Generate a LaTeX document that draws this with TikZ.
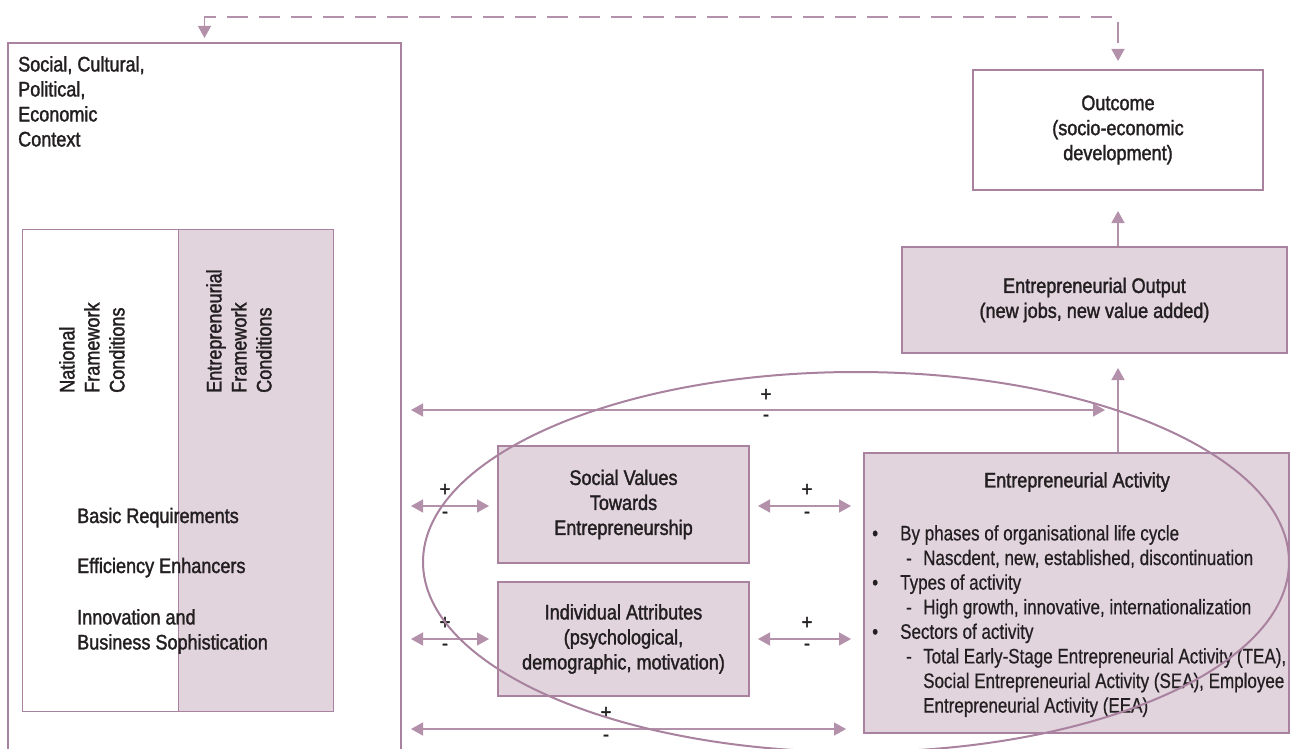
\documentclass[tikz,border=0pt]{standalone}
\usepackage{fontspec}
\setmainfont{Liberation Sans}[FakeStretch=0.86,FakeBold=1.6]
\newfontfamily\actfont{Liberation Sans}[FakeStretch=0.81,FakeBold=0.6]
\usetikzlibrary{arrows.meta}
\definecolor{bord}{RGB}{168,130,158}
\definecolor{arrc}{RGB}{180,145,170}
\definecolor{boxfill}{RGB}{225,212,221}
\definecolor{txt}{RGB}{35,31,32}
\newcommand\mainsz{\fontsize{21}{25}\selectfont}
\newcommand\actsz{\actfont\fontsize{21}{24.6}\selectfont}
\begin{document}
\begin{tikzpicture}[x=1pt,y=-1pt,
  every node/.style={text=txt, font=\mainsz},
  box/.style={draw=bord, line width=2pt, inner sep=0pt, align=center},
  shaded/.style={box, fill=boxfill},
  thinbox/.style={draw=bord, line width=1pt, inner sep=0pt},
  arr/.style={draw=arrc, line width=1.5pt, -{Triangle[width=13pt,length=12pt]}},
  darr/.style={draw=arrc, line width=1.5pt, {Triangle[width=13pt,length=12pt]}-{Triangle[width=13pt,length=12pt]}},
  pm/.style={inner sep=0pt},
  txtnode/.style={inner sep=0pt, align=left}]
\useasboundingbox (0,0) rectangle (1290,749);
\fill[white] (0,0) rectangle (1290,749);

% outer context box
\node[box, minimum width=393pt, minimum height=727pt] (outer) at (204.5,406.5) {};
\node[txtnode, anchor=north west] (ctx) at (18,56) {Social, Cultural,\\Political,\\Economic\\Context};

% framework conditions
\node[thinbox, minimum width=156pt, minimum height=482pt] (nfc) at (100,470) {};
\node[thinbox, fill=boxfill, minimum width=155pt, minimum height=482pt] (efc) at (255.5,470) {};
\node[txtnode, rotate=90, anchor=north west] (nfct) at (59,393) {National\\Framework\\Conditions};
\node[txtnode, rotate=90, anchor=north west] (efct) at (206,393) {Entrepreneurial\\Framework\\Conditions};
\node[txtnode, anchor=base west] (basic) at (77,523) {Basic Requirements};
\node[txtnode, anchor=base west] (eff) at (77,573) {Efficiency Enhancers};
\node[txtnode, anchor=north west] (inno) at (77,609) {Innovation and\\Business Sophistication};

% middle boxes
\node[shaded, minimum width=251pt, minimum height=117pt] (social) at (623.5,504.5) {Social Values\\Towards\\Entrepreneurship};
\node[shaded, minimum width=251pt, minimum height=114pt] (indiv) at (623.5,639) {Individual Attributes\\(psychological,\\demographic, motivation)};

% right boxes
\node[shaded, minimum width=425pt, minimum height=280pt] (act) at (1076.5,593) {};
\node[shaded, minimum width=385pt, minimum height=106pt] (output) at (1094.5,300) {Entrepreneurial Output\\(new jobs, new value added)};
\node[box, fill=white, minimum width=290pt, minimum height=120pt] (outcome) at (1118,130) {Outcome\\(socio-economic\\development)};

\node[inner sep=0pt] (acttitle) at (1077,482) {Entrepreneurial Activity};
\node[txtnode, anchor=north west, font=\actsz] (actlist) at (870,525) {%
\makebox[30pt][l]{\hspace*{2pt}\textbullet}By phases of organisational life cycle\\
\makebox[53pt][l]{\hspace*{36pt}-}Nascdent, new, established, discontinuation\\
\makebox[30pt][l]{\hspace*{2pt}\textbullet}Types of activity\\
\makebox[53pt][l]{\hspace*{36pt}-}High growth, innovative, internationalization\\
\makebox[30pt][l]{\hspace*{2pt}\textbullet}Sectors of activity\\
\makebox[53pt][l]{\hspace*{36pt}-}Total Early-Stage Entrepreneurial Activity (TEA),\\
\makebox[53pt][l]{}Social Entrepreneurial Activity (SEA), Employee\\
\makebox[53pt][l]{}Entrepreneurial Activity (EEA)};

% connectors
\coordinate (dtop) at (660,17);
\draw[darr, line width=1.3pt, dash pattern=on 21pt off 11pt, shorten <=4pt, shorten >=8pt] (outer.north) |- (dtop) -| (outcome.north);
\draw[arr, shorten >=14pt] (act.north -| outcome.south) -- (output.south -| outcome.south);
\draw[arr, shorten >=20pt] (output.north -| outcome.south) -- (outcome.south);

\coordinate (tr) at (1105,410);
\draw[darr, shorten <=9pt] (outer.east |- tr) -- (tr);
\coordinate (bl) at (401,729);
\draw[darr, shorten <=9pt, shorten >=17pt] (outer.east |- bl) -- (act.west |- bl);

\draw[darr, shorten <=9pt, shorten >=8pt] (outer.east |- 0,506) -- (social.west |- 0,506);
\draw[darr, shorten <=9pt, shorten >=8pt] (outer.east |- 0,639) -- (indiv.west |- 0,639);
\draw[darr, shorten <=8pt, shorten >=12pt] (social.east |- 0,506) -- (act.west |- 0,506);
\draw[darr, shorten <=8pt, shorten >=12pt] (indiv.east |- 0,639) -- (act.west |- 0,639);

% plus / minus labels
\node[pm] (p1) at (766,395) {+};
\node[pm] (m1) at (766,418) {-};
\node[pm] (p2) at (445,490) {+};
\node[pm] (m2) at (445,515) {-};
\node[pm] (p3) at (445,623) {+};
\node[pm] (m3) at (445,647) {-};
\node[pm] (p4) at (807,490) {+};
\node[pm] (m4) at (807,515) {-};
\node[pm] (p5) at (807,623) {+};
\node[pm] (m5) at (807,647) {-};
\node[pm] (p6) at (606,713) {+};
\node[pm] (m6) at (606,738) {-};

% ellipse
\draw[draw=bord, line width=2pt] (856,562) ellipse [x radius=433pt, y radius=190pt];
\end{tikzpicture}
\end{document}
